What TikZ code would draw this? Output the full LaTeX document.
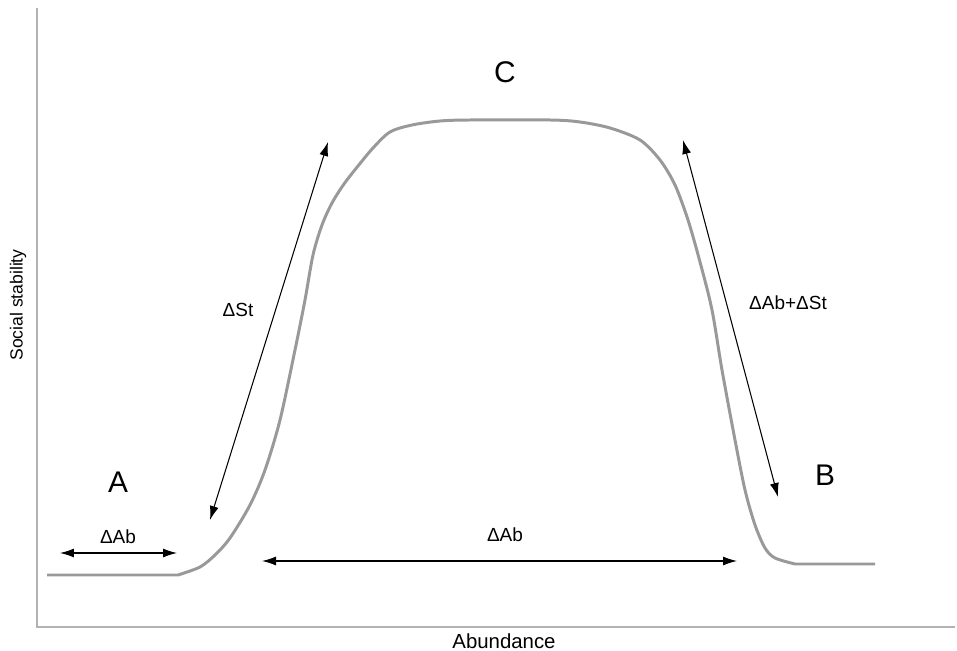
\documentclass[tikz,border=0pt]{standalone}
\usepackage{fontspec}
\setmainfont{Liberation Sans}
\usetikzlibrary{arrows.meta}
\begin{document}
\begin{tikzpicture}[x=0.02cm,y=-0.02cm,
  dim/.style={{Latex[length=2.8mm,width=1.8mm]}-{Latex[length=2.8mm,width=1.8mm]},line width=0.6pt},
  lbl/.style={font=\fontsize{10.8}{12}\selectfont,inner sep=0pt},
  region/.style={font=\fontsize{17}{20}\selectfont,inner sep=0pt}]
\useasboundingbox (0,0) rectangle (957,651);
\draw[black!30,line width=0.8pt] (37,8) -- (37,627) -- (955,627);
\node[lbl,font=\fontsize{10}{12}\selectfont,rotate=90] (ylab) at (18,305) {Social stability};
\node[lbl,font=\fontsize{11.6}{13}\selectfont] (xlab) at (504,641) {Abundance};
\draw[black!40,line width=1.7pt,line join=round] (47,575) -- (178,575)
  plot[smooth,tension=0.5] coordinates {(178,575) (200,567) (215,555) (230,538) (250,505)
  (265,470) (280,420) (295,350) (305,300) (313,255) (322,225) (332,203) (344,184)
  (358,166) (373,148) (390,132) (412,125) (440,121) (470,120) (550,120) (580,122)
  (610,128) (640,140) (660,160) (675,185) (688,220) (700,262) (712,310) (722,370)
  (735,440) (745,490) (755,525) (765,548) (775,558) (795,564)} -- (875,564);
\node[region] (A) at (118,482) {A};
\node[region] (B) at (825,475) {B};
\node[region] (C) at (505,72) {C};
\node[lbl] (dAbA) at (118,537) {ΔAb};
\node[lbl] (dSt) at (238,310) {ΔSt};
\node[lbl] (dAb) at (505,535) {ΔAb};
\node[lbl] (dAbSt) at (788,303) {ΔAb+ΔSt};
\coordinate (a1) at (60,553);
\coordinate (a2) at (177,553);
\coordinate (s1) at (210,520);
\coordinate (s2) at (328,142);
\coordinate (m1) at (262,561);
\coordinate (m2) at (737,561);
\coordinate (b1) at (683,140);
\coordinate (b2) at (778,497);
\draw[dim] (a1) -- (a2);
\draw[dim] (s1) -- (s2);
\draw[dim] (m1) -- (m2);
\draw[dim] (b1) -- (b2);
\end{tikzpicture}
\end{document}
